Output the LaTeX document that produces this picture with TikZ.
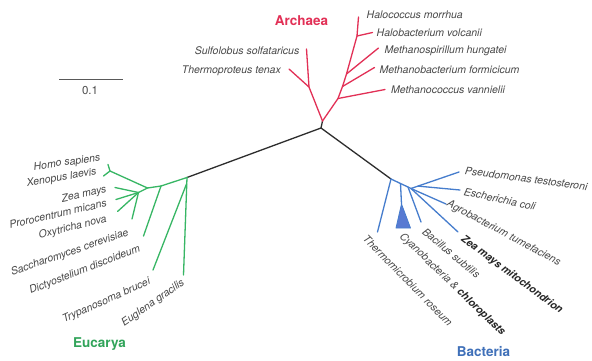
\documentclass[tikz,border=0pt]{standalone}
\usepackage{fontspec}
\setmainfont{TeX Gyre Heros}
\definecolor{archc}{RGB}{226,48,86}
\definecolor{eucc}{RGB}{55,182,100}
\definecolor{bacc}{RGB}{70,125,205}
\definecolor{labc}{RGB}{72,72,72}
\definecolor{trunkc}{RGB}{45,45,45}
\definecolor{tric}{RGB}{88,122,210}
\begin{document}
\begin{tikzpicture}[x=1pt,y=-1pt,
  blk/.style={line width=1.3pt, draw=trunkc, line cap=round, line join=round},
  arcb/.style={line width=1.3pt, draw=archc, line cap=round, line join=round},
  eucb/.style={line width=1.3pt, draw=eucc, line cap=round, line join=round},
  bacb/.style={line width=1.3pt, draw=bacc, line cap=round, line join=round},
  lbl/.style={font=\fontsize{10.5}{12}\selectfont\itshape, text=labc, inner sep=0pt},
  blbl/.style={font=\fontsize{10.5}{12}\selectfont\itshape\bfseries, text=black!85, inner sep=0pt},
  grp/.style={font=\fontsize{13.5}{15}\selectfont\bfseries, inner sep=0pt}]
\fill[white] (0,0) rectangle (592,360);
\useasboundingbox (0,0) rectangle (592,360);

% scale bar
\coordinate (sb1) at (59,79.5);
\coordinate (sb2) at (122.5,79.5);
\draw[line width=1.8pt, draw=black!65] (sb1) -- (sb2);
\node[font=\fontsize{11.5}{13}\selectfont, text=black!70, inner sep=0pt] (sbl) at (90,90.5) {0.1};

% root and black stems
\coordinate (R) at (321,128);
\coordinate (A0) at (322.5,121);
\coordinate (E0) at (187,177.5);
\coordinate (B0) at (391,179);
\draw[blk] (A0) -- (R) -- (E0);
\draw[blk] (R) -- (B0);

% ---------- Archaea ----------
\coordinate (AL) at (309,87);
\coordinate (M1) at (338,98.5);
\coordinate (M2) at (342.5,86.5);
\coordinate (M3) at (346.5,74);
\coordinate (M4) at (357,36);
\coordinate (tSul) at (306.5,49);
\coordinate (tThe) at (289,69);
\coordinate (tMva) at (385,89.5);
\coordinate (tMfo) at (374.5,67.5);
\coordinate (tMhu) at (378.5,48);
\coordinate (tHvo) at (372.5,32.5);
\coordinate (tHmo) at (358.5,17);
\draw[arcb] (A0) -- (AL) -- (tSul);
\draw[arcb] (AL) -- (tThe);
\draw[arcb] (A0) -- (M1) -- (M2) -- (M3) -- (M4) -- (tHmo);
\draw[arcb] (M1) -- (tMva);
\draw[arcb] (M2) -- (tMfo);
\draw[arcb] (M3) -- (tMhu);
\draw[arcb] (M4) -- (tHvo);

\node[lbl, anchor=west] (lHmo) at (366.5,15) {Halococcus morrhua};
\node[lbl, anchor=west] (lHvo) at (376.5,32.5) {Halobacterium volcanii};
\node[lbl, anchor=west] (lMhu) at (384.5,51) {Methanospirillum hungatei};
\node[lbl, anchor=west] (lMfo) at (379.5,69.5) {Methanobacterium formicicum};
\node[lbl, anchor=west] (lMva) at (391,89.5) {Methanococcus vannielii};
\node[lbl, anchor=east] (lSul) at (299.5,50.5) {Sulfolobus solfataricus};
\node[lbl, anchor=east] (lThe) at (281,71) {Thermoproteus tenax};
\node[grp, text=archc] (gA) at (301.5,21) {Archaea};

% ---------- Eucarya ----------
\coordinate (E1) at (161,186);
\coordinate (E2) at (147.5,188);
\coordinate (EF) at (138.5,192.5);
\coordinate (EX) at (110,171);
\coordinate (ET) at (186.5,184);
\coordinate (tEug) at (183.5,275);
\coordinate (tTry) at (153,270);
\coordinate (tDic) at (143.5,236);
\coordinate (tZea) at (115,187.5);
\coordinate (tPro) at (116,199.5);
\coordinate (tOxy) at (117.5,211.5);
\coordinate (tSac) at (132,219);
\coordinate (tHom) at (108,164.5);
\coordinate (tXen) at (103.5,176);
\draw[eucb] (E0) -- (E1) -- (E2) -- (EF);
\draw[eucb] (E0) -- (tEug);
\draw[eucb] (ET) -- (tTry);
\draw[eucb] (E1) -- (tDic);
\draw[eucb] (E2) -- (EX);
\draw[eucb] (tHom) -- (EX) -- (tXen);
\draw[eucb] (EF) -- (tZea);
\draw[eucb] (EF) -- (tPro);
\draw[eucb] (EF) -- (tOxy);
\draw[eucb] (EF) -- (tSac);

\node[lbl, anchor=east, rotate=8] (lHom) at (100.5,158) {Homo sapiens};
\node[lbl, anchor=east, rotate=10] (lXen) at (96.5,172) {Xenopus laevis};
\node[lbl, anchor=east, rotate=12] (lZea) at (106.5,190) {Zea mays};
\node[lbl, anchor=east, rotate=13] (lPro) at (106.5,202.5) {Prorocentrum micans};
\node[lbl, anchor=east, rotate=14] (lOxy) at (106.5,219) {Oxytricha nova};
\node[lbl, anchor=east, rotate=19] (lSac) at (128.5,232.5) {Saccharomyces cerevisiae};
\node[lbl, anchor=east, rotate=21] (lDic) at (140,249) {Dictyostelium discoideum};
\node[lbl, anchor=east, rotate=24] (lTry) at (150,281.5) {Trypanosoma brucei};
\node[lbl, anchor=east, rotate=35] (lEug) at (183.5,282) {Euglena gracilis};
\node[grp, text=eucc!90!black] (gE) at (99.5,344) {Eucarya};

% ---------- Bacteria ----------
\coordinate (BC) at (400.5,183.5);
\coordinate (BB) at (408,187);
\coordinate (BN) at (411,188.5);
\coordinate (BE) at (418,186.1);
\coordinate (tThm) at (377.5,232);
\coordinate (tCy) at (401.5,204);
\coordinate (cyL) at (396,228);
\coordinate (cyR) at (410.5,228);
\coordinate (tBac) at (421,222);
\coordinate (tPse) at (459,172);
\coordinate (tEsc) at (460,190);
\coordinate (tAgr) at (446,204);
\coordinate (tZm) at (458,232);
\draw[bacb] (B0) -- (BC) -- (BB) -- (BN);
\draw[bacb] (B0) -- (tThm);
\draw[bacb] (BC) -- (tCy);
\fill[tric, draw=bacc, line width=0.8pt, line join=round] (tCy) -- (cyL) -- (cyR) -- cycle;
\draw[bacb] (BB) -- (tBac);
\draw[bacb] (BN) -- (tPse);
\draw[bacb] (BE) -- (tEsc);
\draw[bacb] (BN) -- (tAgr);
\draw[bacb] (BN) -- (tZm);

\node[lbl, anchor=west, rotate=-7.5] (lPse) at (465,170.5) {Pseudomonas testosteroni};
\node[lbl, anchor=west, rotate=-12] (lEsc) at (464,191.5) {Escherichia coli};
\node[lbl, anchor=west, rotate=-28] (lAgr) at (447.5,203.5) {Agrobacterium tumefaciens};
\node[blbl, anchor=west, rotate=-36.5] (lZm) at (462,238) {Zea mays mitochondrion};
\node[lbl, anchor=west, rotate=-40] (lBac) at (424,230) {Bacillus subtilis};
\node[lbl, anchor=west, rotate=-44] (lCy) at (401,235) {Cyanobacteria \& {\bfseries\color{black!85}chloroplasts}};
\node[lbl, anchor=west, rotate=-45.5] (lThm) at (365,237) {Thermomicrobium roseum};
\node[grp, text=bacc!90!black] (gB) at (483.5,352) {Bacteria};
\end{tikzpicture}
\end{document}
